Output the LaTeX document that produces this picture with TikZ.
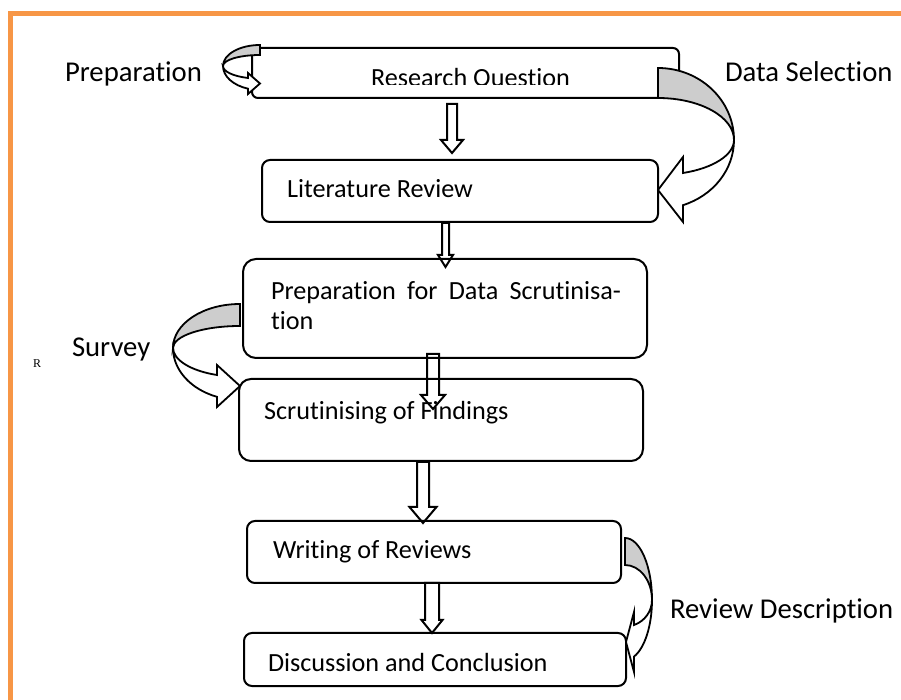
\documentclass[tikz,border=0pt]{standalone}
\usepackage{fontspec}
\setmainfont{Carlito}[Ligatures=NoCommon]
\newfontfamily\tinyserif{Liberation Serif}
\definecolor{frameorange}{RGB}{247,150,70}
\definecolor{bandgray}{RGB}{205,205,205}
% hollow down arrow: x, top, head start, tip, half shaft, half head
\newcommand{\hollowdown}[6]{%
  \draw[fill=white] (#1-#5,#2) -- (#1+#5,#2) -- (#1+#5,#3) -- (#1+#6,#3)
    -- (#1,#4) -- (#1-#6,#3) -- (#1-#5,#3) -- cycle;}

\begin{document}
\begin{tikzpicture}[x=0.5pt,y=-0.5pt,line width=1pt,
  flowbox/.style={draw,rounded corners=#1,inner sep=0pt},
  flowbox/.default=4pt,
  boxtext/.style={inner sep=0pt,font=\fontsize{13.1}{15}\selectfont},
  sidelabel/.style={inner sep=0pt,anchor=base west,font=\fontsize{14.35}{17}\selectfont},
  backband/.style={draw,line width=0.9pt,fill=bandgray},
  frontband/.style={draw,line width=0.9pt,fill=white}]
\useasboundingbox (0,0) rectangle (901,700);
%%%%%%%%%%%%%%%%%%%% frame %%%%%%%%%%%%%%%%%%%%
\draw[frameorange,line width=2.5pt] (901,13.5) -- (10,13.5) -- (10,700);
%%%%%%%%%%%%%%%%%%%% down arrows %%%%%%%%%%%%%%%%%%%%
\hollowdown{452}{104}{140}{153}{5}{11}
\hollowdown{445.5}{223}{255}{267}{3.5}{7.5}
\hollowdown{433}{354}{395}{409}{6}{12}
\hollowdown{423}{462}{507}{523}{6}{13.5}
\hollowdown{432}{583}{620}{633}{7}{10.5}
%%%%%%%%%%%%%%%%%%%% boxes %%%%%%%%%%%%%%%%%%%%
\node[flowbox=3pt,minimum width=213.5pt,minimum height=25pt] (rq) at (465.5,73) {};
\node[flowbox,minimum width=198pt,minimum height=31pt] (litrev) at (460,191) {};
\node[flowbox=6.5pt,minimum width=202pt,minimum height=49.5pt] (prep) at (445,308.5) {};
\node[flowbox=6pt,minimum width=202pt,minimum height=41pt] (scrut) at (441,420) {};
\node[flowbox,minimum width=187pt,minimum height=31pt] (writing) at (434,552) {};
\node[flowbox,minimum width=191pt,minimum height=26.5pt] (disc) at (435,659.5) {};
\begin{scope}
  \clip (250,40) rectangle (690,85);
  \node[boxtext,anchor=base west] (rqtext) at (370,87) {Research Question};
\end{scope}
\node[boxtext,anchor=base west] (litrevtext) at (286,198) {Literature Review};
\node[boxtext,anchor=base west,align=left] (preptext) at (270,330)
  {\makebox[175pt][s]{Preparation for Data Scrutinisa-}\\tion};
\node[boxtext,anchor=base west] (scruttext) at (263,420) {Scrutinising of Findings};
\node[boxtext,anchor=base west] (writingtext) at (272,559) {Writing of Reviews};
\node[boxtext,anchor=base west] (disctext) at (267,671) {Discussion and Conclusion};
%%%%%%%%%%%%%%%%%%%% side labels %%%%%%%%%%%%%%%%%%%%
\node[sidelabel] (lprep) at (64,82) {Preparation};
\node[sidelabel] (lsel) at (724,82) {Data Selection};
\node[sidelabel] (lsurvey) at (71,357) {Survey};
\node[sidelabel] (ldesc) at (669,618) {Review Description};
\node[inner sep=0pt,anchor=base west,font=\tinyserif\fontsize{6}{7}\selectfont] (rmark) at (32,368) {R};
%%%%%%%%%%%%%%%%%%%% curved arrows %%%%%%%%%%%%%%%%%%%%
% preparation
\draw[backband] (260,45) arc[start angle=270,end angle=180,x radius=37,y radius=21]
  arc[start angle=180,end angle=270,x radius=37,y radius=11] -- cycle;
\draw[frontband] (223,66) arc[start angle=180,end angle=108.9,x radius=37,y radius=24]
  -- (248,94) -- (260,83.5) -- (248,73) -- (248,78)
  arc[start angle=108.9,end angle=180,x radius=37,y radius=12.7] -- cycle;
% data selection
\draw[backband] (658,68) arc[start angle=-90,end angle=0,x radius=76,y radius=72]
  arc[start angle=0,end angle=-90,x radius=76,y radius=42] -- cycle;
\draw[frontband] (734,140) arc[start angle=0,end angle=70.8,x radius=76,y radius=69]
  -- (683,222) -- (658,190) -- (683,157) -- (683,173)
  arc[start angle=70.8,end angle=0,x radius=76,y radius=35] -- cycle;
% survey
\draw[backband] (240,304) arc[start angle=270,end angle=180,x radius=67,y radius=44]
  arc[start angle=180,end angle=270,x radius=67,y radius=22] -- cycle;
\draw[frontband] (173,348) arc[start angle=180,end angle=110.1,x radius=67,y radius=52]
  -- (217,407) -- (240,386) -- (217,365) -- (217,375)
  arc[start angle=110.1,end angle=180,x radius=67,y radius=29] -- cycle;
% review description
\draw[backband] (625,538) arc[start angle=-90,end angle=0,x radius=27,y radius=62]
  arc[start angle=0,end angle=-90,x radius=27,y radius=35] -- cycle;
\draw[frontband] (652,600) arc[start angle=0,end angle=70.5,x radius=27,y radius=60]
  -- (634,672) -- (626,642) -- (634,612) -- (634,625)
  arc[start angle=70.5,end angle=0,x radius=27,y radius=26.5] -- cycle;
\end{tikzpicture}
\end{document}
